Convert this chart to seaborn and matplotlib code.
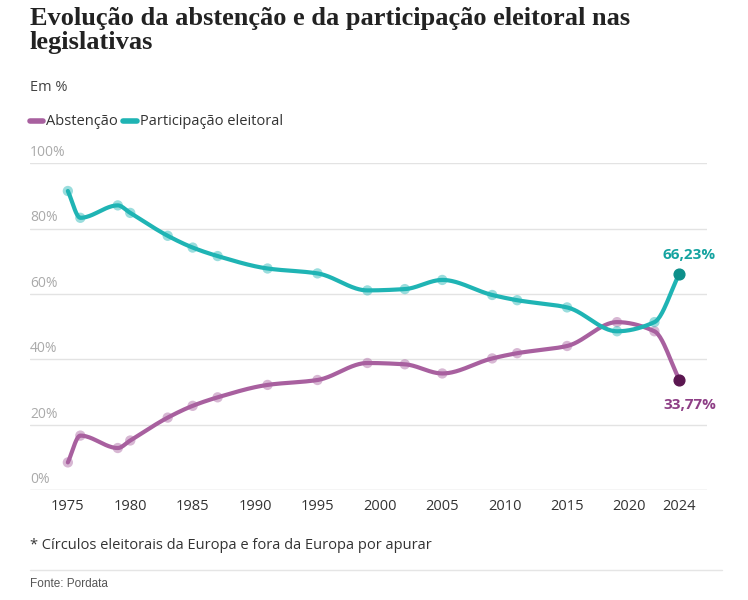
import numpy as np
import matplotlib
matplotlib.use("Agg")
import matplotlib.pyplot as plt
import seaborn as sns
import pandas as pd

years = [1975,1976,1979,1980,1983,1985,1987,1991,1995,1999,2002,2005,2009,2011,2015,2019,2022,2024]
abstencao = [8.5,16.7,12.9,15.2,22.2,25.8,28.4,32.2,33.7,38.9,38.5,35.7,40.3,41.9,44.1,51.4,48.6,33.77]
participacao = [round(100-a,2) for a in abstencao]
xticks = [1975,1980,1985,1990,1995,2000,2005,2010,2015,2020,2024]
C_ABS = "#a8609f"; C_PAR = "#1fb4b4"

def pchip(x, y, n=600):
    x = np.asarray(x, float); y = np.asarray(y, float)
    h = np.diff(x); d = np.diff(y)/h
    m = np.zeros_like(y)
    for k in range(1, len(x)-1):
        if d[k-1]*d[k] > 0:
            w1 = 2*h[k]+h[k-1]; w2 = h[k]+2*h[k-1]
            m[k] = (w1+w2)/(w1/d[k-1]+w2/d[k])
    m[0] = d[0]; m[-1] = d[-1]
    xs = np.linspace(x[0], x[-1], n); ys = np.empty_like(xs)
    for i, xv in enumerate(xs):
        k = min(np.searchsorted(x, xv, side="right")-1, len(x)-2)
        t = (xv-x[k])/h[k]
        h00 = 2*t**3-3*t**2+1; h10 = t**3-2*t**2+t; h01 = -2*t**3+3*t**2; h11 = t**3-t**2
        ys[i] = h00*y[k]+h10*h[k]*m[k]+h01*y[k+1]+h11*h[k]*m[k+1]
    return xs, ys

sns.set_theme(style="white")
plt.rcParams['font.family'] = ['Open Sans', 'DejaVu Sans']
fig = plt.figure(figsize=(7.48, 6), dpi=100)
ax = fig.add_axes([0.04, 0.183, 0.905, 0.545])

for vals, col in [(abstencao, C_ABS), (participacao, C_PAR)]:
    xs, ys = pchip(years, vals)
    sns.lineplot(x=xs, y=ys, ax=ax, color=col, lw=3, zorder=3)
    sns.scatterplot(x=years[:-1], y=vals[:-1], ax=ax, color=col, alpha=0.45, s=55, edgecolor="none", zorder=4)
ax.scatter([years[-1]], [abstencao[-1]], color="#5b1650", s=60, zorder=5)
ax.scatter([years[-1]], [participacao[-1]], color="#0d8f8a", s=60, zorder=5)
ax.text(years[-1]+0.8, participacao[-1]+4.5, f"{participacao[-1]:.2f}%".replace(".", ","), color="#14a3a0", fontweight="bold", fontsize=11, ha="center")
ax.text(years[-1]+0.8, abstencao[-1]-9, f"{abstencao[-1]:.2f}%".replace(".", ","), color="#8e3f86", fontweight="bold", fontsize=11, ha="center")

ax.set_xlim(1971.96, 2026.2); ax.set_ylim(0, 100)
ax.set_yticks([]); ax.set_xticks(xticks)
ax.set_xticklabels([str(t) for t in xticks], fontsize=10.5, color="#333")
ax.tick_params(axis="x", length=0, pad=6)
for v in range(0, 101, 20):
    ax.axhline(v, color="#e3e3e3" if v else "#cccccc", lw=1, zorder=0)
    ax.text(1971.96, v+1.0, f"{v}%", color="#aaa", fontsize=10, va="bottom")
for s in ax.spines.values(): s.set_visible(False)
ax.set_xlabel(""); ax.set_ylabel("")

fig.text(0.04, 0.988, "Evolução da abstenção e da participação eleitoral nas\nlegislativas", family=["Liberation Serif"], fontweight="bold", fontsize=19, va="top", color="#222", linespacing=1.05)
fig.text(0.04, 0.848, "Em %", fontsize=10.5, color="#444")
fig.add_artist(plt.Line2D([0.04, 0.058], [0.798, 0.798], color=C_ABS, lw=4))
fig.text(0.061, 0.798, "Abstenção", fontsize=10.5, color="#333", va="center")
fig.add_artist(plt.Line2D([0.165, 0.183], [0.798, 0.798], color=C_PAR, lw=4))
fig.text(0.187, 0.798, "Participação eleitoral", fontsize=10.5, color="#333", va="center")
fig.text(0.04, 0.085, "* Círculos eleitorais da Europa e fora da Europa por apurar", fontsize=10.5, color="#333")
fig.add_artist(plt.Line2D([0.04, 0.965], [0.05, 0.05], color="#e5e5e5", lw=1))
fig.text(0.04, 0.022, "Fonte: Pordata", fontsize=8.5, color="#555", family=["Liberation Sans"])
fig.savefig("out.png", dpi=100)
